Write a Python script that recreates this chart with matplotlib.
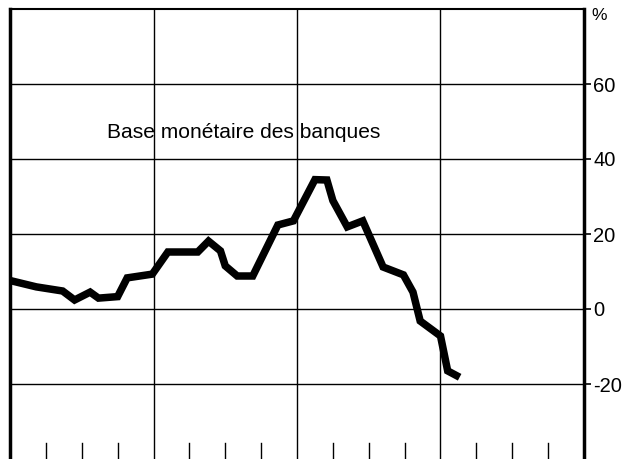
import matplotlib
matplotlib.use("Agg")
import matplotlib.pyplot as plt

plt.rcParams["font.family"] = ["Liberation Sans", "DejaVu Sans"]

# ── Données (mois depuis le début de la période, variation en %) ──
mois = [0, 2.2, 4.4, 5.4, 6.7, 7.4, 9.0, 9.8, 11.9, 13.2, 15.7, 16.6, 17.6,
        18.0, 19.0, 20.3, 22.4, 23.7, 25.5, 26.5, 27.0, 28.2, 29.5, 31.2,
        32.9, 33.7, 34.3, 36.0, 36.6, 37.6]
base_monetaire = [7.6, 5.9, 4.8, 2.4, 4.5, 2.9, 3.3, 8.3, 9.3, 15.2, 15.2, 18.1,
                  15.5, 11.5, 8.8, 8.8, 22.4, 23.5, 34.5, 34.4, 28.9, 21.9,
                  23.5, 11.2, 9.1, 4.5, -3.2, -7.2, -16.5, -18.2]
y_ticks = [60, 40, 20, 0, -20]
y_labels = ["60", "40", "20", "0", "-20"]
x_annees = [12, 24, 36]
x_trimestres = [3, 6, 9, 15, 18, 21, 27, 30, 33, 39, 42, 45]

fig = plt.figure(figsize=(6.33, 4.59), dpi=100)
ax = fig.add_axes([10 / 633, 0, 574 / 633, 450 / 459])

ax.set_xlim(0, 48)
ax.set_ylim(-40, 80)

# grille
for y in y_ticks:
    ax.axhline(y, color="black", linewidth=1.0, zorder=1)
for x in x_annees:
    ax.axvline(x, color="black", linewidth=1.0, zorder=1)

# petits traits trimestriels en bas
for x in x_trimestres:
    ax.plot([x, x], [-40, -35.7], color="black", linewidth=1.0, zorder=1)

ax.plot(mois, base_monetaire, color="black", linewidth=5.4,
        solid_joinstyle="miter", solid_capstyle="butt", zorder=3)

ax.text(8.1, 47, "Base monétaire des banques", fontsize=15.1, va="center",
        ha="left", color="black")

# axes
ax.spines["bottom"].set_visible(False)
ax.spines["left"].set_linewidth(2.5)
ax.spines["right"].set_linewidth(2.5)
ax.spines["top"].set_linewidth(1.5)

ax.set_xticks([])
ax.yaxis.tick_right()
ax.set_yticks(y_ticks)
ax.set_yticklabels(y_labels)
ax.tick_params(axis="y", direction="out", length=5, width=1.2, pad=1.5,
               labelsize=14.5, left=False)

ax.text(1.012, 0.985, "%", transform=ax.transAxes, fontsize=12.5, ha="left",
        va="center")

fig.savefig("out.png", dpi=100)
